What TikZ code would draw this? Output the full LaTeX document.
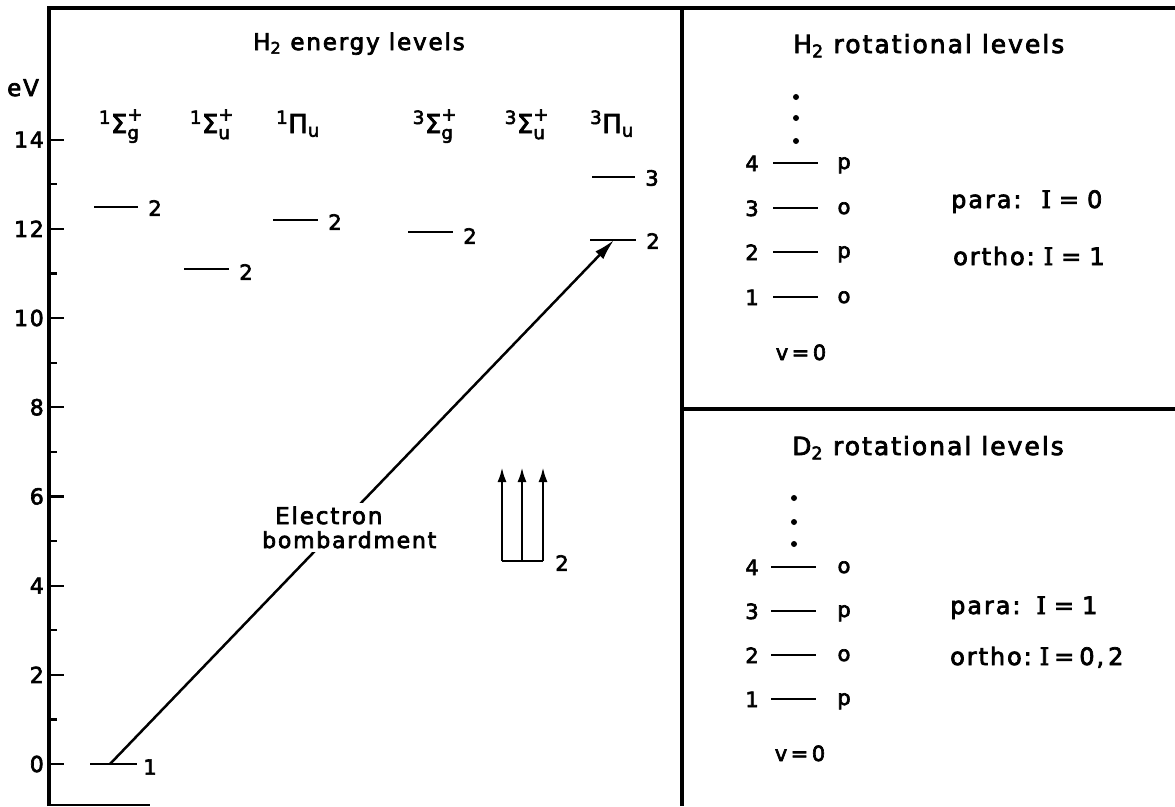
\documentclass[tikz,border=0pt]{standalone}
\usepackage{amsmath}
\usepackage{fontspec}
\setmainfont{DejaVu Sans}[LetterSpace=8,FakeBold=3]
\newfontfamily\serifI{DejaVu Serif}[FakeBold=3]
\usetikzlibrary{arrows.meta}
\newcommand\fsz[1]{\fontsize{#1}{#1}\selectfont}
\newcommand\SigS[2]{$^{\text{#1}}\text{Σ}^{\text{+}}_{\text{#2}}$}
\newcommand\PiS[2]{$^{\text{#1}}\text{Π}_{\text{#2}}$}
\newcommand\bigI{{\serifI I}}
\newcommand\eqs{\hspace{8pt}=\hspace{8pt}}
\tikzset{
  fr/.style={line width=3.5pt},
  lvl/.style={line width=2.5pt},
  tick/.style={line width=2.2pt},
  arr/.style={line width=2.5pt,-{Latex[length=21pt,width=11pt]}},
  varr/.style={line width=2.6pt,-{Latex[length=15pt,width=9pt]}},
  txt/.style={inner sep=0pt,font=\fsz{22}},
  ttl/.style={inner sep=0pt,font=\fsz{23},anchor=base west},
  st/.style={inner sep=0pt,font=\fsz{26},anchor=base},
  num/.style={inner sep=0pt,font=\fsz{21}},
  side/.style={inner sep=0pt,font=\fsz{24},anchor=base west},
  dotm/.style={fill=black,circle,inner sep=0pt,minimum size=6pt},
}
\begin{document}
\begin{tikzpicture}[x=1pt,y=-1pt]
\useasboundingbox (0,0) rectangle (1175,806);
% frames
\draw[fr] (49,806) -- (49,8) -- (1175,8);
\draw[fr] (682,8) -- (682,806);
\draw[fr] (682,409) -- (1175,409);
\draw[line width=1.2pt] (49,805) -- (150,805);
% axis
\node[txt,font=\fsz{23},anchor=base west] (eV) at (7,96) {eV};
\foreach \e in {0,2,...,14}{
  \draw[tick] (49,{764-44.6*\e}) -- (64,{764-44.6*\e});
  \node[txt,anchor=east] (t\e) at (44,{764-44.6*\e}) {\e};
}
\foreach \e in {1,3,...,13}{
  \draw[tick] (49,{764-44.6*\e}) -- (57,{764-44.6*\e});
}
% titles
\node[ttl] (tH) at (253,50) {H$_{\text{2}}$ energy levels};
\node[ttl,font=\fsz{25}] (tR) at (793,53) {H$_{\text{2}}$ rotational levels};
\node[ttl,font=\fsz{25}] (tD) at (792,455) {D$_{\text{2}}$ rotational levels};
% state labels
\node[st] (s1) at (121,133) {\SigS{1}{g}};
\node[st] (s2) at (212,133) {\SigS{1}{u}};
\node[st] (s3) at (298,133) {\PiS{1}{u}};
\node[st] (s4) at (435,133) {\SigS{3}{g}};
\node[st] (s5) at (527,133) {\SigS{3}{u}};
\node[st] (s6) at (612,133) {\PiS{3}{u}};
% levels
\draw[lvl] (94,207) -- (138,207);  \node[num] (l1) at (155,208) {2};
\draw[lvl] (184,269) -- (229,269); \node[num] (l2) at (246,272) {2};
\draw[lvl] (273,220) -- (318,220); \node[num] (l3) at (335,222) {2};
\draw[lvl] (408,232) -- (453,232); \node[num] (l4) at (470,236) {2};
\draw[lvl] (592,177) -- (635,177); \node[num] (l5) at (652,178) {3};
\draw[lvl] (590,240) -- (636,240); \node[num] (l6) at (653,241) {2};
\draw[lvl] (90,764) -- (137,764);  \node[num] (l0) at (150,767) {1};
\coordinate (g0) at (110,764);
\coordinate (g2) at (614,240);
\draw[arr] (g0) -- (g2);
\node[txt,font=\fsz{23},anchor=base west,fill=white,inner ysep=4pt,inner xsep=1pt] (el) at (274,524) {Electron};
\node[txt,font=\fsz{22},anchor=base west,fill=white,inner ysep=4pt,inner xsep=1pt] (bo) at (261,548) {bombardment};
% three arrows
\coordinate (a1) at (502,561); \coordinate (a1t) at (502,467);
\coordinate (a2) at (522,561); \coordinate (a2t) at (522,467);
\coordinate (a3) at (543,561); \coordinate (a3t) at (543,467);
\draw[lvl] (a1) -- (a3);
\draw[varr] (a1) -- (a1t);
\draw[varr] (a2) -- (a2t);
\draw[varr] (a3) -- (a3t);
\node[num] (l7) at (562,563) {2};
% H2 rotational
\foreach \y/\n/\k [count=\i] in {163/4/p,208/3/o,252/2/p,297/1/o}{
  \draw[lvl] (773,\y) -- (818,\y);
  \node[num,anchor=base] (hn\i) at (752,\y+8) {\n};
  \node[num,anchor=base] (hk\i) at (844,\y+6) {\k};
}
\node[dotm] (hd1) at (796,97) {};
\node[dotm] (hd2) at (796,118) {};
\node[dotm] (hd3) at (796,141) {};
\node[num,anchor=base] (hv) at (801,360) {v\,=\,0};
\node[side] (hp) at (951,208) {para:\hspace{20pt}\bigI\eqs 0};
\node[side] (ho) at (953,265) {ortho:\hspace{9pt}\bigI\eqs 1};
% D2 rotational
\foreach \y/\n/\k [count=\i] in {567/4/o,611/3/p,655/2/o,699/1/p}{
  \draw[lvl] (771,\y) -- (816,\y);
  \node[num,anchor=base] (dn\i) at (752,\y+8) {\n};
  \node[num,anchor=base] (dk\i) at (844,\y+6) {\k};
}
\node[dotm] (dd1) at (794,498) {};
\node[dotm] (dd2) at (794,522) {};
\node[dotm] (dd3) at (794,544) {};
\node[num,anchor=base] (dv) at (800,761) {v\,=\,0};
\node[side] (dp) at (950,614) {para:\hspace{16pt}\bigI\eqs 1};
\node[side] (do) at (950,665) {ortho:\hspace{8pt}\bigI\hspace{5pt}=\hspace{5pt}0,\,2};
\end{tikzpicture}
\end{document}
